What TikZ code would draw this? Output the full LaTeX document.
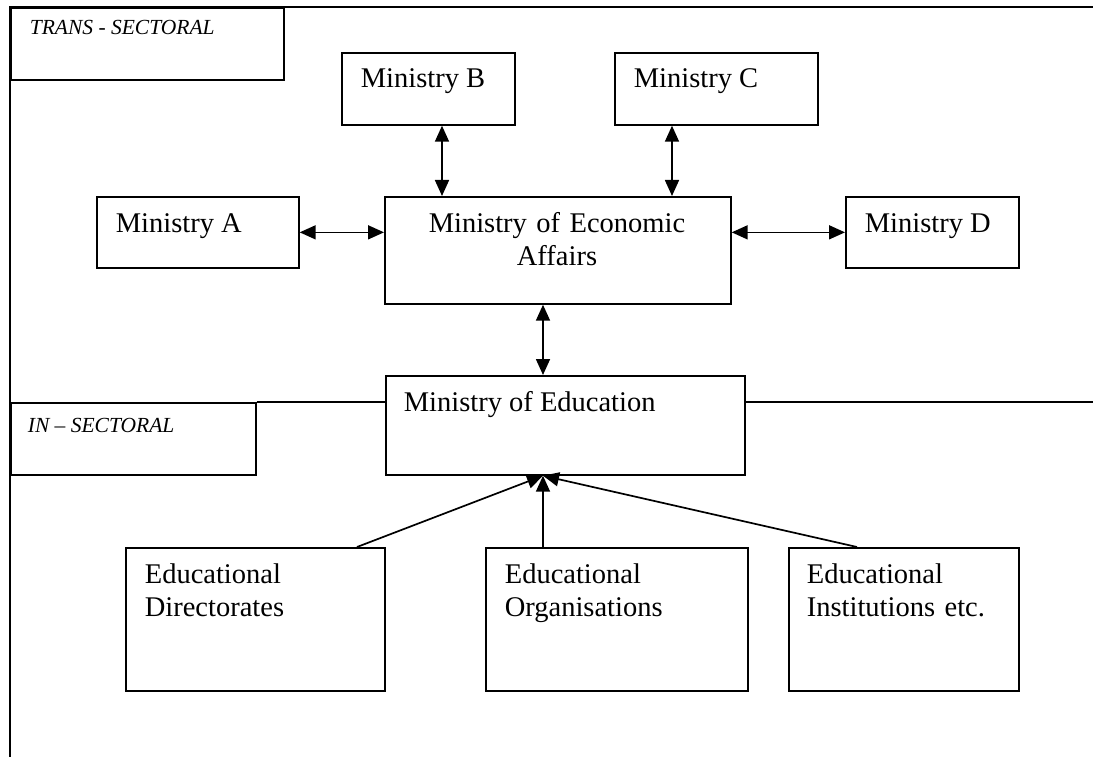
\documentclass[tikz,border=0pt]{standalone}
\usepackage{fontspec}
\setmainfont{Liberation Serif}
\usetikzlibrary{arrows.meta}
\begin{document}
\begin{tikzpicture}[x=1pt,y=-1pt,line width=1.7pt,
  box/.style={draw,rectangle,inner sep=0pt,anchor=north west},
  lbl/.style={anchor=base west,inner sep=0pt,font=\fontsize{28.5}{33}\selectfont},
  lbltwo/.style={anchor=base west,inner sep=0pt,text width=250pt,align=left,font=\fontsize{28.5}{33}\selectfont},
  tag/.style={anchor=base west,inner sep=0pt,font=\fontsize{21.5}{24}\selectfont\itshape},
  dbl/.style={{Triangle[length=16pt,width=14pt]}-{Triangle[length=16pt,width=14pt]}},
  one/.style={-{Triangle[length=16pt,width=14pt]}}]
\useasboundingbox (0,0) rectangle (1093,757);
% frame
\draw (1093,7) -| (10,757);
% boxes
\node[box,minimum width=273pt,minimum height=72pt] (trans) at (10,7) {};
\node[box,minimum width=173pt,minimum height=72pt] (minb) at (341,52) {};
\node[box,minimum width=203pt,minimum height=72pt] (minc) at (614,52) {};
\node[box,minimum width=202pt,minimum height=71pt] (mina) at (96,196) {};
\node[box,minimum width=173pt,minimum height=71pt] (mind) at (845,196) {};
\node[box,minimum width=346pt,minimum height=107pt] (mea) at (384,196) {};
\node[box,minimum width=359pt,minimum height=99pt] (moe) at (385,375) {};
\node[box,minimum width=245pt,minimum height=72pt] (insec) at (10,402) {};
\node[box,minimum width=259pt,minimum height=143pt] (ed) at (125,547) {};
\node[box,minimum width=262pt,minimum height=143pt] (eo) at (485,547) {};
\node[box,minimum width=230pt,minimum height=143pt] (ei) at (788,547) {};
% texts
\node[tag] (transt) at (29,35) {TRANS - SECTORAL};
\node[tag] (insect) at (27,432) {IN -- SECTORAL};
\node[lbl] (minbt) at (360,88) {Ministry B};
\node[lbl] (minct) at (633,88) {Ministry C};
\node[lbl] (minat) at (115,232) {Ministry A};
\node[lbl] (mindt) at (864,232) {Ministry D};
\node[anchor=base,inner sep=0pt,text width=340pt,align=center,font=\fontsize{28.5}{33}\selectfont] (meat) at (557,232) {Ministry of Economic\\Affairs};
\node[lbl] (moet) at (403,411) {Ministry of Education};
\node[lbltwo] (edt) at (144,583) {Educational\\Directorates};
\node[lbltwo] (eot) at (504,583) {Educational\\Organisations};
\node[lbltwo] (eit) at (806,583) {Educational\\Institutions etc.};
% sector line
\draw (insec.north east) -- (insec.north east -| moe.west);
\draw (moe.east |- insec.north east) -- (1093,402);
% arrows
\draw[dbl] ([xshift=101pt]minb.south west) -- ([xshift=58pt]mea.north west);
\draw[dbl] ([xshift=58pt]minc.south west) -- ([xshift=288pt]mea.north west);
\draw[dbl] (mina.east) -- (mina.east -| mea.west);
\draw[dbl] (mind.west -| mea.east) -- (mind.west);
\draw[dbl] ([xshift=159pt]mea.south west) -- ([xshift=158pt]moe.north west);
\coordinate (hub) at ([xshift=158pt]moe.south west);
\draw[one] ([xshift=232pt]ed.north west) -- (hub);
\draw[one] ([xshift=58pt]eo.north west) -- (hub);
\draw[one] ([xshift=69pt]ei.north west) -- (hub);
\end{tikzpicture}
\end{document}
